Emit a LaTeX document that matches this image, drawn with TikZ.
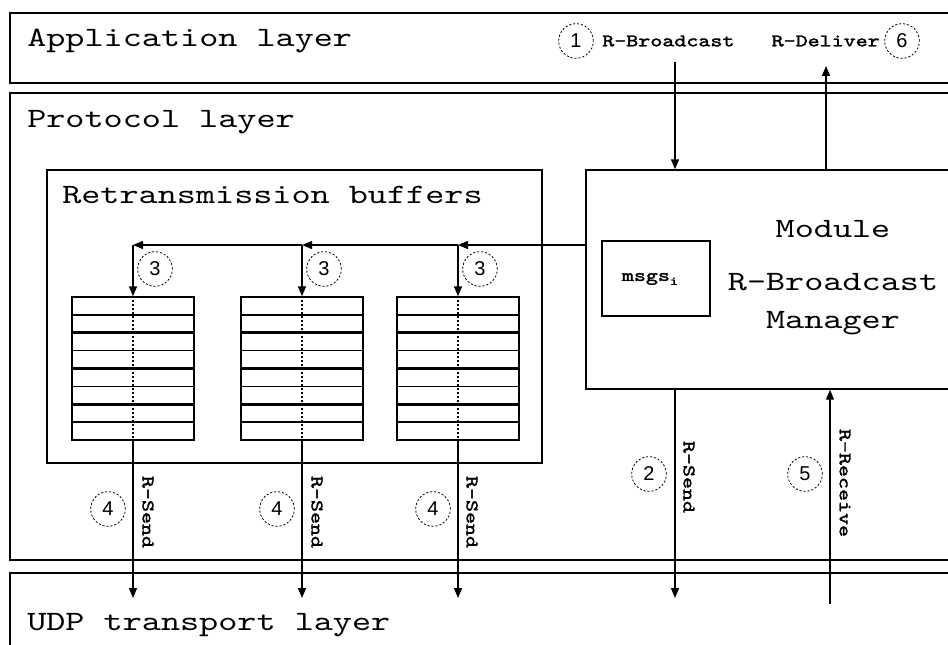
\documentclass[tikz,border=0pt]{standalone}
\usepackage{fontspec}
\setmainfont{Liberation Sans}
\newfontfamily\courf{lmmono10-regular.otf}[FakeStretch=1.3]
\newfontfamily\courb{lmmono10-regular.otf}[FakeStretch=1.3,FakeBold=2]
\usetikzlibrary{arrows.meta,fit}

\begin{document}
\begin{tikzpicture}[x=0.75pt,y=-0.75pt,
  box/.style={draw, line width=1.1pt, inner sep=0pt},
  title/.style={font=\courf\fontsize{21}{25}\selectfont, inner sep=0pt},
  lbl/.style={font=\courb\fontsize{13.2}{16}\selectfont, inner sep=0pt},
  num/.style={draw, circle, dash pattern=on 1.6pt off 1.4pt, line width=0.6pt,
              minimum size=26pt, inner sep=0pt, font=\fontsize{15}{18}\selectfont},
  flow/.style={line width=1pt, -{Triangle[length=7.5pt,width=6pt]}},
  rowthin/.style={line width=1pt},
  rowthick/.style={line width=2.4pt}]

\useasboundingbox (0,0) rectangle (948,645);
\clip (0,0) rectangle (948,645);

% layers
\node[box, fit={(10,13)(970,83)}] (app) {};
\node[box, fit={(10,93)(970,560)}] (proto) {};
\node[box, fit={(10,573)(970,680)}] (udp) {};
\node[title, anchor=base west] (apptxt) at (27,47) {Application layer};
\node[title, anchor=base west] (prototxt) at (27,128) {Protocol layer};
\node[title, anchor=base west] (udptxt) at (27,630) {UDP transport layer};

% retransmission buffers
\node[box, fit={(47,170)(542,463)}] (rbuf) {};
\node[title, anchor=base west] (rbuftxt) at (62,204) {Retransmission buffers};

% manager module
\node[box, fit={(586,170)(970,389)}] (mod) {};
\node[box, fit={(602,241)(710,316)}] (msgs) {};
\node[lbl] (msgstxt) at (650,279) {msgs\raisebox{-3pt}{\courb\fontsize{9}{10}\selectfont i}};
\node[title, anchor=base] (modA) at (833,238) {Module};
\node[title, anchor=base] (modB) at (833,290) {R-Broadcast};
\node[title, anchor=base] (modC) at (833,328) {Manager};

% the three buffers
\foreach \n/\xa in {1/72,2/241,3/397}{
  \node[box, line width=1pt, fit={(\xa,297)(\xa+122,440)}] (b\n) {};
  \foreach \k in {1,3,5,7}
    \draw[rowthin] (\xa,297+\k*17.875) -- (\xa+122,297+\k*17.875);
  \foreach \k in {2,4,6}
    \draw[rowthick] (\xa,297+\k*17.875) -- (\xa+122,297+\k*17.875);
  \draw[line width=1pt, dotted] (b\n.north) -- (b\n.south);
}

% distribution from the manager to the buffers
\coordinate (d1) at (b1.north |- 0,245);
\coordinate (d2) at (b2.north |- 0,245);
\coordinate (d3) at (b3.north |- 0,245);
\draw[flow] (mod.west |- d3) -- (d3);
\draw[flow] (d3) -- (d2);
\draw[flow] (d2) -- (d1);
\foreach \n in {1,2,3}
  \draw[flow] (d\n) -- (b\n.north);
\node[num] (c3a) at (155,269) {3};
\node[num] (c3b) at (324,269) {3};
\node[num] (c3c) at (480,269) {3};

% buffers to transport layer
\foreach \n in {1,2,3}{
  \coordinate (o\n) at (b\n.south |- 0,598);
  \draw[flow] (b\n.south) -- (o\n);
}
\node[num] (c4a) at (108,509) {4};
\node[num] (c4b) at (277,509) {4};
\node[num] (c4c) at (433,509) {4};
\node[lbl, rotate=-90] (s1) at (148,512) {R-Send};
\node[lbl, rotate=-90] (s2) at (317,512) {R-Send};
\node[lbl, rotate=-90] (s3) at (472,512) {R-Send};

% application interface
\coordinate (bc) at (675,62);
\coordinate (dl) at (826,66);
\draw[flow] (bc) -- (bc |- mod.north);
\draw[flow] (dl |- mod.north) -- (dl);
\node[num] (c1) at (576,41) {1};
\node[lbl, anchor=west] (bctxt) at (602,41) {R-Broadcast};
\node[lbl, anchor=east] (dltxt) at (880,41) {R-Deliver};
\node[num] (c6) at (902,41) {6};

% manager to / from transport layer
\coordinate (snd) at (675,598);
\coordinate (rcv) at (830,604);
\draw[flow] (snd |- mod.south) -- (snd);
\draw[flow] (rcv) -- (rcv |- mod.south);
\node[num] (c2) at (649,474) {2};
\node[lbl, rotate=-90] (s4) at (689,477) {R-Send};
\node[num] (c5) at (805,474) {5};
\node[lbl, rotate=-90] (rr) at (845,483) {R-Receive};
\end{tikzpicture}
\end{document}
